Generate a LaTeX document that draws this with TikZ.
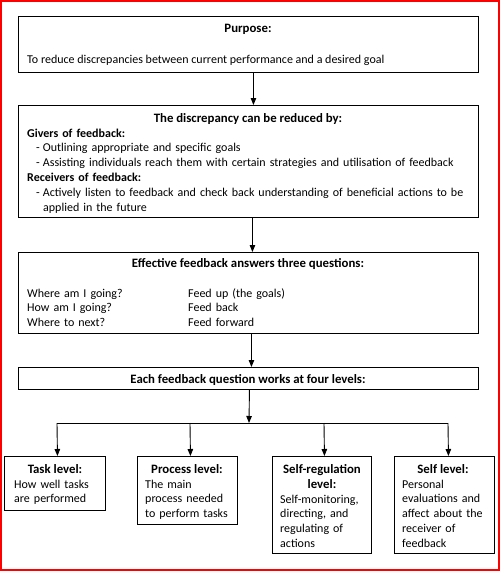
\documentclass[tikz,border=0pt]{standalone}
\usepackage{fontspec}
\setmainfont{Carlito}
\usetikzlibrary{arrows.meta}
\tikzset{
  box/.style={draw=black, line width=0.9pt, fill=white, anchor=north west, inner sep=0pt},
  arr/.style={line width=0.9pt, -{Triangle[length=7pt,width=5.5pt]}},
  ln/.style={line width=0.9pt},
  txt/.style={inner sep=0pt, anchor=base west, font=\fontsize{12}{14.8}\selectfont},
  ttl/.style={inner sep=0pt, anchor=base, font=\fontsize{12.8}{14.8}\selectfont\bfseries},
  para/.style={inner sep=0pt, anchor=base west, align=left, text width=#1, font=\fontsize{12}{14.8}\selectfont},
}
\begin{document}
\begin{tikzpicture}[x=1pt,y=-1pt]
\useasboundingbox (0,0) rectangle (500,571);
\draw[red, line width=2pt] (1,1) rectangle (499,570);
% boxes
\node[box, minimum width=460pt, minimum height=56pt] (b1) at (18,16) {};
\node[box, minimum width=460pt, minimum height=112pt] (b2) at (18,105) {};
\node[box, minimum width=460pt, minimum height=81pt] (b3) at (18,252) {};
\node[box, minimum width=460pt, minimum height=22pt] (b4) at (18,367) {};
\node[box, minimum width=101pt, minimum height=54pt] (t1) at (4,456) {};
\node[box, minimum width=100pt, minimum height=68pt] (t2) at (137,456) {};
\node[box, minimum width=99pt, minimum height=97pt] (t3) at (272,456) {};
\node[box, minimum width=100pt, minimum height=97pt] (t4) at (394,456) {};
% box 1
\node[ttl] (p1) at (248,32) {Purpose:};
\node[txt] (p2) at (27,63) {To reduce discrepancies between current performance and a desired goal};
% box 2
\node[ttl] (d1) at (248,122) {The discrepancy can be reduced by:};
\node[para=450pt] (d2) at (27,137) {\textbf{Givers of feedback:}\\
\hspace*{9pt}-\hspace{3pt}Outlining appropriate and specific goals\\
\hspace*{9pt}-\hspace{3pt}Assisting individuals reach them with certain strategies and utilisation of feedback\\
\textbf{Receivers of feedback:}\\
\hspace*{9pt}-\hspace{3pt}Actively listen to feedback and check back understanding of beneficial actions to be\\
\hspace*{16pt}applied in the future};
% box 3
\node[ttl] (e1) at (248,267) {Effective feedback answers three questions:};
\node[para=150pt] (e2) at (27,297) {Where am I going?\\How am I going?\\Where to next?};
\node[para=150pt] (e3) at (188,297) {Feed up (the goals)\\Feed back\\Feed forward};
% box 4
\node[ttl] (f1) at (248,383) {Each feedback question works at four levels:};
% level boxes
\node[ttl] (l1) at (55,473) {Task level:};
\node[para=90pt] (l1b) at (14,488) {How well tasks\\are performed};
\node[ttl] (l2) at (187,473) {Process level:};
\node[para=90pt] (l2b) at (145,488) {The main\\process needed\\to perform tasks};
\node[ttl, align=center] (l3) at (322,488) {Self-regulation\\level:};
\node[para=90pt] (l3b) at (280,503) {Self-monitoring,\\directing, and\\regulating of\\actions};
\node[ttl] (l4) at (443,473) {Self level:};
\node[para=90pt] (l4b) at (402,488) {Personal\\evaluations and\\affect about the\\receiver of\\feedback};
% connectors
\draw[arr] ([xshift=5pt]b1.south) -- ([xshift=5pt]b2.north);
\draw[arr] ([xshift=4pt]b2.south) -- ([xshift=4pt]b3.north);
\draw[arr] ([xshift=3pt]b3.south) -- ([xshift=3pt]b4.north);
\coordinate (j) at (249,423);
\coordinate (jl) at (57,423);
\coordinate (jr) at (448,423);
\draw[arr] ([xshift=1pt]b4.south) -- (j);
\draw[ln] (jl) -- (jr);
\draw[arr] (jl) -- ([xshift=2.5pt]t1.north);
\draw[arr] (jl -| 190,0) -- ([xshift=3pt]t2.north);
\draw[arr] (jl -| 324,0) -- ([xshift=2.5pt]t3.north);
\draw[arr] (jr) -- ([xshift=4pt]t4.north);
\end{tikzpicture}
\end{document}
